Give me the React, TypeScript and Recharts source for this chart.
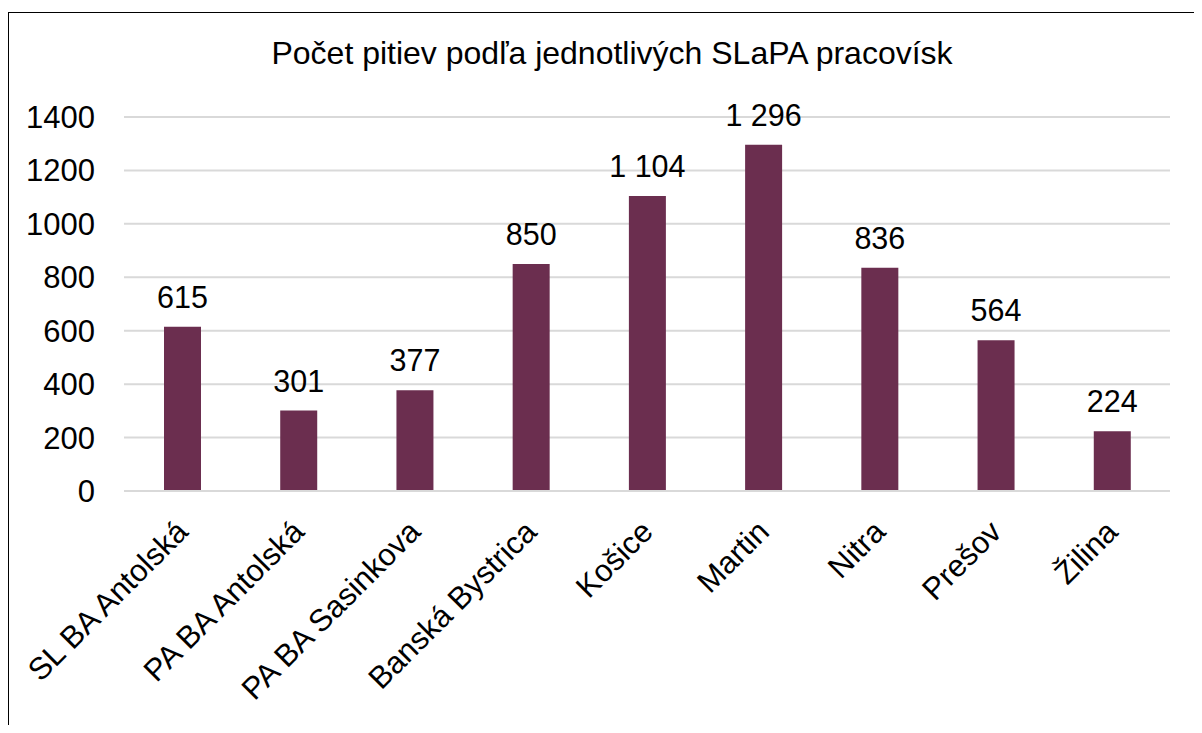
import { BarChart, Bar, XAxis, YAxis, CartesianGrid, LabelList } from "recharts";

const categories = [
  "SL BA Antolská",
  "PA BA Antolská",
  "PA BA Sasinkova",
  "Banská Bystrica",
  "Košice",
  "Martin",
  "Nitra",
  "Prešov",
  "Žilina",
];
const counts = [615, 301, 377, 850, 1104, 1296, 836, 564, 224];
const yTicks = [0, 200, 400, 600, 800, 1000, 1200, 1400];

const FONT = '"Liberation Sans", Arial, sans-serif';
const BAR_COLOR = "#6B2E4F";

const data = categories.map((name, i) => ({ name, count: counts[i] }));

// 1104 -> "1 104" (non-breaking space so the label stays on one line)
const fmt = (v: any) => String(v).replace(/\B(?=(\d{3})+(?!\d))/g, "\u00A0");

function RotatedTick({ x, y, payload }: any) {
  const ty = y + 35;
  return (
    <text
      x={x}
      y={ty}
      dy="0.35em"
      textAnchor="end"
      transform={`rotate(-45, ${x}, ${ty})`}
      fontFamily={FONT}
      fontSize={31}
      fill="#000"
    >
      {payload.value}
    </text>
  );
}

export default function App() {
  return (
    <div
      style={{
        marginTop: 4,
        borderLeft: "1px solid #000",
        borderTop: "1px solid #000",
        width: 1185,
        height: 712,
        position: "relative",
        fontFamily: FONT,
      }}
    >
      <div
        style={{
          position: "absolute",
          top: 24,
          left: 0,
          width: 1206,
          textAlign: "center",
          fontSize: 32,
          lineHeight: "32px",
          color: "#000",
        }}
      >
        Počet pitiev podľa jednotlivých SLaPA pracovísk
      </div>
      <BarChart
        width={1185}
        height={712}
        data={data}
        margin={{ top: 104, right: 24, left: 0, bottom: 34 }}
      >
        <CartesianGrid vertical={false} stroke="#d9d9d9" strokeWidth={2} />
        <XAxis
          dataKey="name"
          height={200}
          interval={0}
          tickLine={false}
          tickSize={0}
          tickMargin={0}
          axisLine={{ stroke: "#d9d9d9", strokeWidth: 2 }}
          tick={<RotatedTick />}
        />
        <YAxis
          width={115}
          domain={[0, 1400]}
          ticks={yTicks}
          interval={0}
          axisLine={false}
          tickLine={false}
          tickSize={0}
          tickMargin={29}
          tick={{ fontFamily: FONT, fontSize: 31, fill: "#000" }}
        />
        <Bar dataKey="count" fill={BAR_COLOR} barSize={37} isAnimationActive={false}>
          <LabelList
            dataKey="count"
            position="top"
            offset={19}
            formatter={fmt}
            style={{ fontFamily: FONT, fontSize: 30.5, fill: "#000" }}
          />
        </Bar>
      </BarChart>
    </div>
  );
}
